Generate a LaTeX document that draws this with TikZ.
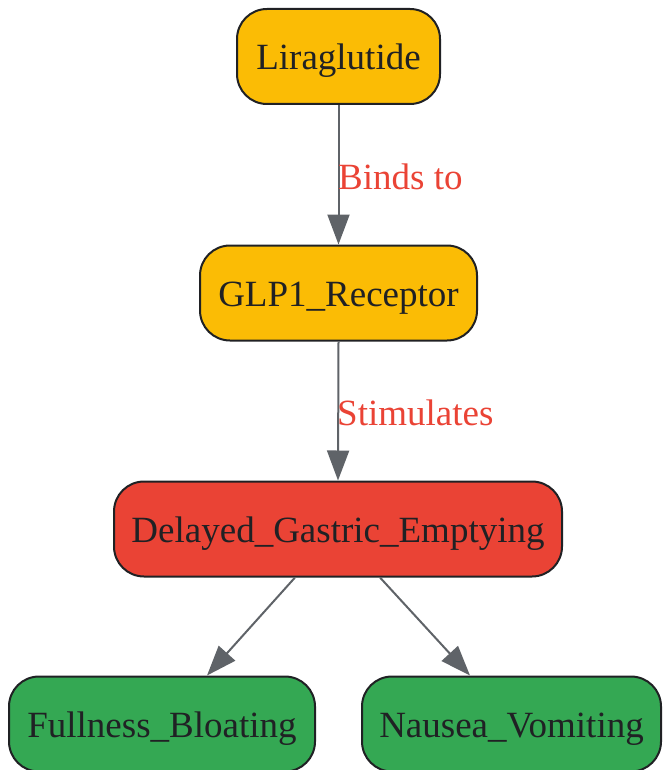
\documentclass[tikz,border=0pt]{standalone}
\usepackage{fontspec}
\setmainfont{Liberation Serif}
\usetikzlibrary{arrows.meta,calc}
\definecolor{gyellow}{HTML}{FBBC05}
\definecolor{gred}{HTML}{EA4335}
\definecolor{ggreen}{HTML}{34A853}
\definecolor{gdark}{HTML}{202124}
\definecolor{ggray}{HTML}{5F6368}
\begin{document}
\begin{tikzpicture}[x=1pt,y=-1pt,
  box/.style={draw=gdark,line width=2pt,rounded corners=30pt,inner sep=0pt,
    text=gdark,font=\fontsize{37}{44}\selectfont,minimum height=95pt,
    text height=30pt,text depth=3pt},
  conn/.style={draw=ggray,line width=2pt,-{Triangle[length=30pt,width=22pt]}},
  lbl/.style={text=gred,font=\fontsize{37}{44}\selectfont,inner sep=0pt,anchor=west}]
\useasboundingbox (0,0) rectangle (662,770);
\node[box,fill=gyellow,minimum width=203pt] (l) at (338.5,56.5) {Liraglutide};
\node[box,fill=gyellow,minimum width=277pt] (g) at (338.5,293) {GLP1\_Receptor};
\node[box,fill=gred,minimum width=448pt] (d) at (338,529) {Delayed\_Gastric\_Emptying};
\node[box,fill=ggreen,minimum width=306pt] (f) at (162,724) {Fullness\_Bloating};
\node[box,fill=ggreen,minimum width=299pt] (n) at (511.5,724) {Nausea\_Vomiting};
\draw[conn] (l.south) -- (g.north);
\draw[conn] (g.south) -- (d.north);
\draw[conn] ($(d.south)+(-43,0)$) -- ($(f.north)+(45,0)$);
\draw[conn] ($(d.south)+(42,0)$) -- ($(n.north)+(-41.5,0)$);
\node[lbl] (b) at (338,177) {Binds to};
\node[lbl] (s) at (337,413) {Stimulates};
\end{tikzpicture}
\end{document}
